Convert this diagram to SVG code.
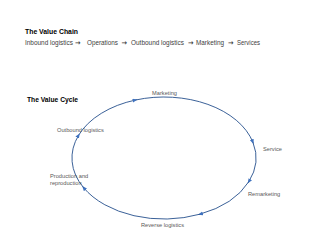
<svg xmlns="http://www.w3.org/2000/svg" width="320" height="240" viewBox="0 0 320 240">
<style>
.title{font-family:"Liberation Sans",Arial,sans-serif;font-weight:bold;font-size:7.4px;fill:#000}
.chain{font-family:"Liberation Sans",Arial,sans-serif;font-size:6.5px;fill:#404040}
.arr{font-family:"DejaVu Sans",sans-serif;font-weight:bold;font-size:7px;fill:#404040}
.lbl{font-family:"Liberation Sans",Arial,sans-serif;font-size:5.7px;fill:#595959}
.arc{fill:none;stroke:#254f8c;stroke-width:0.9;marker-end:url(#ah)}
</style>
<defs>
<marker id="ah" markerUnits="userSpaceOnUse" markerWidth="6" markerHeight="5" refX="3" refY="2" orient="auto">
<path d="M0,0 L5,2 L0,4 z" fill="#3f72bf"/>
</marker>
</defs>
<rect width="320" height="240" fill="#fff"/>
<g id="chain-title"><text class="title" x="25" y="34" textLength="53" lengthAdjust="spacingAndGlyphs">The Value Chain</text></g>
<g id="chain">
<text class="chain" y="45"><tspan x="25" textLength="48" lengthAdjust="spacingAndGlyphs">Inbound logistics</tspan><tspan class="arr" x="75" textLength="5.5" lengthAdjust="spacingAndGlyphs">→</tspan><tspan x="87" textLength="31" lengthAdjust="spacingAndGlyphs">Operations</tspan><tspan class="arr" x="121.5" textLength="5.5" lengthAdjust="spacingAndGlyphs">→</tspan><tspan x="131" textLength="53" lengthAdjust="spacingAndGlyphs">Outbound logistics</tspan><tspan class="arr" x="188" textLength="5.5" lengthAdjust="spacingAndGlyphs">→</tspan><tspan x="196" textLength="28" lengthAdjust="spacingAndGlyphs">Marketing</tspan><tspan class="arr" x="228" textLength="5.5" lengthAdjust="spacingAndGlyphs">→</tspan><tspan x="237" textLength="23" lengthAdjust="spacingAndGlyphs">Services</tspan></text>
</g>
<g id="cycle-title"><text class="title" x="27" y="102" textLength="51" lengthAdjust="spacingAndGlyphs">The Value Cycle</text></g>
<g id="connectors">
<path class="arc" d="M78.7,135.1 A92,61 0 0 1 135.6,100.0"/>
<path class="arc" d="M135.6,100.0 A92,61 0 0 1 252.9,142.2"/>
<path class="arc" d="M252.9,142.2 A92,61 0 0 1 248.7,181.8"/>
<path class="arc" d="M248.7,181.8 A92,61 0 0 1 199.9,214.2"/>
<path class="arc" d="M199.9,214.2 A92,61 0 0 1 83.5,187.6"/>
<path class="arc" d="M83.5,187.6 A92,61 0 0 1 78.7,135.1"/>
</g>
<g id="marketing"><text class="lbl" x="152" y="94.5">Marketing</text></g>
<g id="outbound"><text class="lbl" x="57" y="132">Outbound logistics</text></g>
<g id="service"><text class="lbl" x="263" y="151">Service</text></g>
<g id="production"><text class="lbl" x="50" y="177.5">Production and</text><text class="lbl" x="50" y="184.5">reproduction</text></g>
<g id="remarketing"><text class="lbl" x="248" y="196">Remarketing</text></g>
<g id="reverse"><text class="lbl" x="141" y="227">Reverse logistics</text></g>
</svg>
